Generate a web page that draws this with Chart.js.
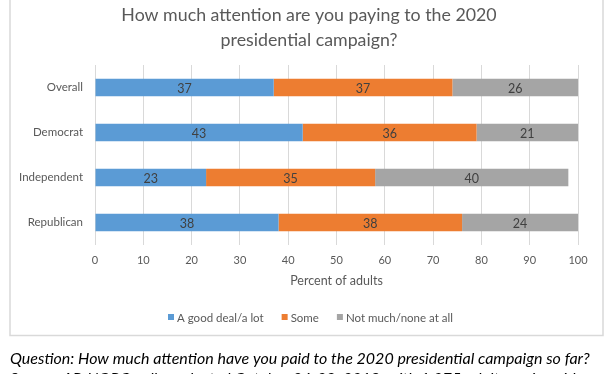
<!DOCTYPE html>
<html>
<head>
<meta charset="utf-8">
<script src="https://cdn.jsdelivr.net/npm/chart.js@4"></script>
<style>
html,body{margin:0;padding:0;background:#fff;}
#wrap{width:612px;height:374px;position:relative;}
</style>
</head>
<body>
<div id="wrap"><canvas id="c" width="612" height="374"></canvas></div>
<script>
const categories = ["Overall", "Democrat", "Independent", "Republican"];
const seriesNames = ["A good deal/a lot", "Some", "Not much/none at all"];
const goodDeal = [37, 43, 23, 38];
const some = [37, 36, 35, 38];
const notMuch = [26, 21, 40, 24];
const xTicks = [0, 10, 20, 30, 40, 50, 60, 70, 80, 90, 100];
const titleLines = ["How much attention are you paying to the 2020", "presidential campaign?"];
const axisTitle = "Percent of adults";
const footLines = ["Question: How much attention have you paid to the 2020 presidential campaign so far?",
  "Source: AP-NORC poll conducted October 24-28, 2019, with 1,075 adults nationwide"];

const colors = ["#5b9bd5", "#ed7d31", "#a5a5a5"];
const FONT = "Lato, 'Open Sans', sans-serif";
const TXT = "#595959";

const decor = {
  id: "decor",
  beforeDraw(chart) {
    const ctx = chart.ctx;
    ctx.save();
    ctx.fillStyle = "#fff";
    ctx.fillRect(0, 0, 612, 374);
    ctx.strokeStyle = "#d9d9d9";
    ctx.lineWidth = 1.5;
    ctx.strokeRect(10, -5, 593, 340.5);
    ctx.restore();
  },
  afterDraw(chart) {
    const ctx = chart.ctx;
    ctx.save();
    // title
    ctx.fillStyle = TXT;
    ctx.font = "17.8px " + FONT;
    ctx.textAlign = "center";
    ctx.textBaseline = "alphabetic";
    ctx.fillText(titleLines[0], 309, 21);
    ctx.fillText(titleLines[1], 309, 46);
    // data labels
    ctx.font = "12.5px " + FONT;
    ctx.fillStyle = "#404040";
    ctx.textBaseline = "middle";
    chart.data.datasets.forEach((ds, i) => {
      const meta = chart.getDatasetMeta(i);
      meta.data.forEach((el, j) => {
        const cx = (el.x + el.base) / 2;
        ctx.fillText(String(ds.data[j]), cx, el.y + 1);
      });
    });
    // legend
    ctx.font = "11.5px " + FONT;
    ctx.textAlign = "left";
    const ly = 317;
    let lx = 168;
    chart.data.datasets.forEach((ds, i) => {
      ctx.fillStyle = ds.backgroundColor;
      ctx.fillRect(lx, ly - 3, 6, 6);
      ctx.fillStyle = TXT;
      ctx.fillText(ds.label, lx + 9, ly + 1);
      lx += 9 + ctx.measureText(ds.label).width + 18;
    });
    // footnotes
    ctx.fillStyle = "#000";
    ctx.font = "italic 16px " + FONT;
    ctx.textBaseline = "alphabetic";
    ctx.fillText(footLines[0], 10, 364);
    ctx.fillText(footLines[1], 10, 384);
    ctx.restore();
  }
};

new Chart(document.getElementById("c"), {
  type: "bar",
  data: {
    labels: categories,
    datasets: [
      { label: seriesNames[0], data: goodDeal, backgroundColor: colors[0] },
      { label: seriesNames[1], data: some, backgroundColor: colors[1] },
      { label: seriesNames[2], data: notMuch, backgroundColor: colors[2] }
    ]
  },
  options: {
    indexAxis: "y",
    responsive: false,
    animation: false,
    devicePixelRatio: 1,
    barPercentage: 0.78,
    categoryPercentage: 0.5,
    layout: { padding: { left: 10, right: 34, top: 65, bottom: 82 } },
    plugins: { legend: { display: false }, title: { display: false }, tooltip: { enabled: false } },
    scales: {
      x: {
        stacked: true,
        min: 0, max: 100,
        afterBuildTicks(scale) { scale.ticks = xTicks.map(v => ({ value: v })); },
        grid: { color: "#d9d9d9", drawTicks: false, lineWidth: 1 },
        border: { display: false },
        ticks: { color: TXT, font: { family: FONT, size: 11 }, padding: 9 },
        title: { display: true, text: axisTitle, color: TXT, font: { family: FONT, size: 12.5 }, padding: { top: 5 } },
        afterFit(scale) { scale.height = 374 - 82 - 245; }
      },
      y: {
        stacked: true,
        grid: { display: false },
        border: { display: false },
        ticks: { color: TXT, font: { family: FONT, size: 11.5 }, padding: 4 },
        afterFit(scale) { scale.width = 85; }
      }
    }
  },
  plugins: [decor]
});
</script>
</body>
</html>
